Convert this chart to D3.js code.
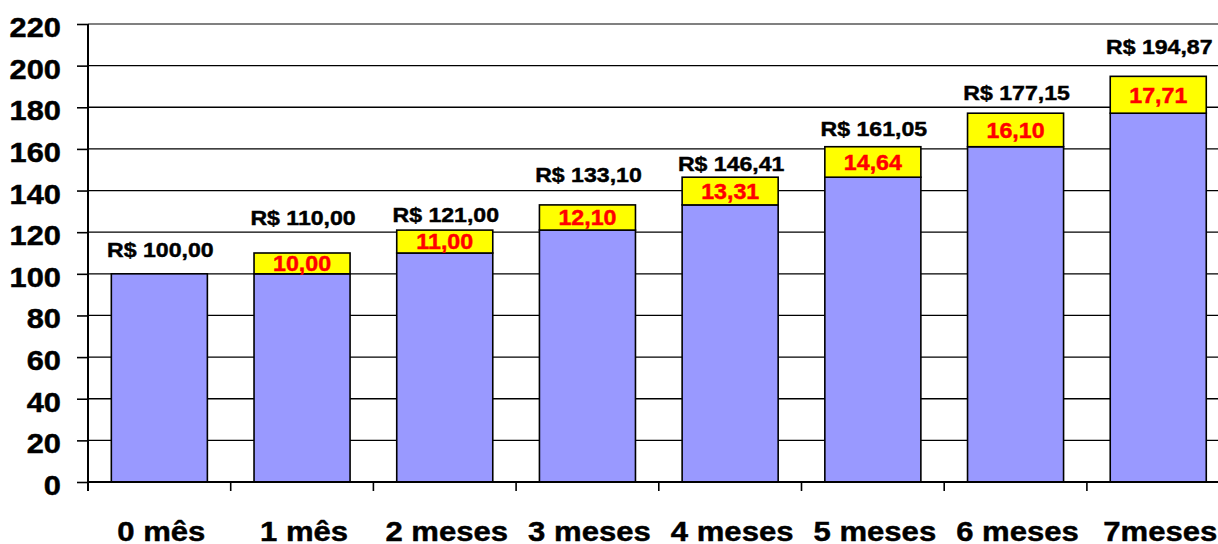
<!DOCTYPE html>
<html>
<head>
<meta charset="utf-8">
<script src="https://cdn.jsdelivr.net/npm/d3@7"></script>
<style>
  body { margin: 0; background: #fff; }
  text { font-family: "Liberation Sans", Arial, sans-serif; font-weight: bold; stroke-width: 0.45px; }
</style>
</head>
<body>
<div id="chart"></div>
<script>
// Chart values.
const categories = ["0 mês", "1 mês", "2 meses", "3 meses", "4 meses", "5 meses", "6 meses", "7meses"];
const baseValues = [100, 100, 110, 121, 133.10, 146.41, 161.05, 177.15];
const interestValues = [0, 10.00, 11.00, 12.10, 13.31, 14.64, 16.10, 17.71];
const totalValues = [100.00, 110.00, 121.00, 133.10, 146.41, 161.05, 177.15, 194.87];
const yTicks = [0, 20, 40, 60, 80, 100, 120, 140, 160, 180, 200, 220];

// Gap (px) between the bar top and its total label, as placed in the picture.
const labelGap = [17, 28, 8, 23, 6, 11, 13, 22];

const W = 1218, H = 544;
const plotLeft = 88, plotTop = 24, plotBottom = 482;
const step = 142.7;

const fmt = d3.formatLocale({ decimal: ",", thousands: ".", grouping: [3], currency: ["R$ ", ""] }).format(",.2f");

const svg = d3.select("#chart").append("svg")
  .attr("width", W)
  .attr("height", H);

const x = d3.scaleBand()
  .domain(categories)
  .range([plotLeft, plotLeft + step * categories.length])
  .paddingInner(0.327)
  .paddingOuter(0.1635);

const y = d3.scaleLinear()
  .domain([0, 220])
  .range([plotBottom, plotTop]);

// Gridlines.
svg.append("g")
  .selectAll("line")
  .data(yTicks.filter(d => d > 0))
  .join("line")
  .attr("x1", plotLeft).attr("x2", W)
  .attr("y1", d => y(d)).attr("y2", d => y(d))
  .attr("stroke", d => d === 220 ? "#808080" : "#000")
  .attr("stroke-width", d => d === 220 ? 2 : 1.3);

// Stacked bars.
const bars = svg.append("g");
bars.selectAll("rect.base")
  .data(categories)
  .join("rect")
  .attr("class", "base")
  .attr("x", d => x(d))
  .attr("width", x.bandwidth())
  .attr("y", (d, i) => y(baseValues[i]))
  .attr("height", (d, i) => y(0) - y(baseValues[i]))
  .attr("fill", "#9999ff")
  .attr("stroke", "#000")
  .attr("stroke-width", 1.6);

bars.selectAll("rect.interest")
  .data(categories.filter((d, i) => interestValues[i] > 0))
  .join("rect")
  .attr("class", "interest")
  .attr("x", d => x(d))
  .attr("width", x.bandwidth())
  .attr("y", d => { const i = categories.indexOf(d); return y(baseValues[i] + interestValues[i]); })
  .attr("height", d => { const i = categories.indexOf(d); return y(baseValues[i]) - y(baseValues[i] + interestValues[i]); })
  .attr("fill", "#ffff00")
  .attr("stroke", "#000")
  .attr("stroke-width", 1.6);

// Red interest labels, centred in the yellow segment.
svg.append("g")
  .selectAll("text")
  .data(categories.filter((d, i) => interestValues[i] > 0))
  .join("text")
  .attr("text-anchor", "middle")
  .attr("font-size", 21.5)
  .attr("fill", "#ff0000")
  .attr("stroke", "#ff0000")
  .attr("transform", d => {
    const i = categories.indexOf(d);
    const cy = (y(baseValues[i]) + y(baseValues[i] + interestValues[i])) / 2;
    return `translate(${x(d) + x.bandwidth() / 2},${cy + 7.8}) scale(1.08,1)`;
  })
  .text(d => fmt(interestValues[categories.indexOf(d)]));

// Total labels above the bars.
svg.append("g")
  .selectAll("text")
  .data(categories)
  .join("text")
  .attr("text-anchor", "middle")
  .attr("font-size", 21)
  .attr("fill", "#000")
  .attr("stroke", "#000")
  .attr("transform", (d, i) => {
    const t = y(baseValues[i] + interestValues[i]);
    return `translate(${x(d) + x.bandwidth() / 2 + 1},${t - labelGap[i]}) scale(1.1,1)`;
  })
  .text((d, i) => "R$ " + fmt(totalValues[i]));

// Y axis.
const yAxis = svg.append("g")
  .attr("transform", `translate(${plotLeft},0)`)
  .call(d3.axisLeft(y).tickValues(yTicks).tickSize(11).tickPadding(0).tickFormat(d3.format("d")));
yAxis.select(".domain").remove();
yAxis.selectAll(".tick line").attr("stroke", "#000").attr("stroke-width", 1.6);
yAxis.selectAll(".tick text").remove();
yAxis.selectAll(".tick").append("text")
  .attr("text-anchor", "end")
  .attr("font-size", 27.5)
  .attr("fill", "#000")
  .attr("stroke", "#000")
  .attr("transform", "translate(-27,12.5) scale(1.12,1)")
  .text(d => d);
svg.append("line")
  .attr("x1", plotLeft).attr("x2", plotLeft)
  .attr("y1", plotTop).attr("y2", plotBottom + 9)
  .attr("stroke", "#000").attr("stroke-width", 2);

// X axis line and category boundary ticks.
svg.append("line")
  .attr("x1", plotLeft).attr("x2", W)
  .attr("y1", plotBottom).attr("y2", plotBottom)
  .attr("stroke", "#000").attr("stroke-width", 2);
svg.append("g")
  .selectAll("line")
  .data(d3.range(categories.length))
  .join("line")
  .attr("x1", i => plotLeft + i * x.step()).attr("x2", i => plotLeft + i * x.step())
  .attr("y1", plotBottom).attr("y2", plotBottom + 9)
  .attr("stroke", "#000").attr("stroke-width", 1.6);

// Category labels.
svg.append("g")
  .selectAll("text")
  .data(categories)
  .join("text")
  .attr("text-anchor", "middle")
  .attr("font-size", 28)
  .attr("fill", "#000")
  .attr("stroke", "#000")
  .attr("transform", d => `translate(${x(d) + x.bandwidth() / 2 + 2},541) scale(1.11,1)`)
  .text(d => d);
</script>
</body>
</html>
